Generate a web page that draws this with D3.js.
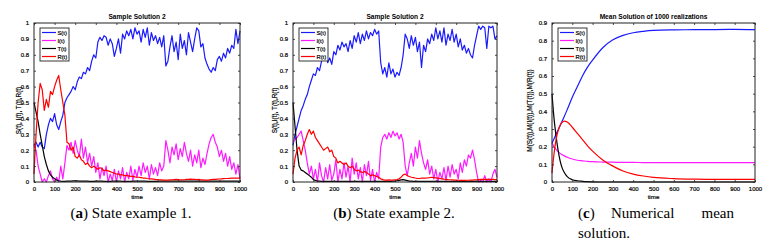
<!DOCTYPE html>
<html>
<head>
<meta charset="utf-8">
<script src="https://cdn.jsdelivr.net/npm/d3@7"></script>
<style>
  body { margin: 0; background: #fff; }
  svg { display: block; }
  .tick text { font-family: "Liberation Sans", Arial, sans-serif; }
</style>
</head>
<body>
<svg id="chart" width="772" height="247"></svg>
<script>
// time grid of the sampled paths (every 10 units)
const time = d3.range(0, 1001, 10);

// panel (a) - sample path 1
const s1 = [.23,.25,.22,.25,.22,.21,.3,.36,.4,.38,.43,.36,.33,.38,.42,.5,.53,.55,.57,.6,.58,.63,.66,.65,.69,.68,.72,.7,.76,.8,.78,.88,.91,.89,.92,.91,.86,.9,.87,.79,.84,.9,.81,.93,.9,.95,.92,.96,.9,.97,.93,.95,.88,.96,.91,.97,.86,.94,.89,.92,.87,.91,.85,.92,.73,.76,.85,.92,.82,.88,.77,.93,.84,.89,.8,.94,.88,.82,.9,.97,.95,.85,.87,.78,.74,.71,.69,.72,.7,.77,.79,.76,.81,.78,.84,.81,.86,.84,.96,.87,.95];
const i1 = [.23,.2,.1,.05,0,.02,0,.04,.07,.02,0,.03,0,.1,.02,.12,.23,.2,.25,.18,.26,.2,.16,.27,.15,.22,.12,.18,.1,.16,.06,.12,.02,.09,.04,.1,0,.05,.01,.08,0,.07,.02,.09,0,.06,.02,.1,.01,.08,.03,.1,.04,.12,.06,.1,.02,.11,.05,.09,.04,.12,.07,.1,.26,.2,.12,.22,.17,.24,.14,.21,.16,.25,.18,.13,.2,.1,.17,.12,.2,.09,.15,.11,.18,.24,.28,.3,.25,.22,.16,.2,.13,.18,.1,.16,.08,.12,.05,.11,.02];
const t1 = [.5,.44,.38,.3,.23,.16,.11,.07,.045,.03,.02,.012,.008,.005,.004,.004,.005,.005,.006,.007,.008,.007,.006,.006,.005,.005,.005,.004,.004,.004,.005,.005,.005,.005,.004,.004,.004,.004,.005,.005,.005,.005,.005,.004,.004,.004,.004,.004,.005,.005,.005,.005,.005,.005,.005,.004,.004,.004,.004,.004,.004,.005,.005,.005,.005,.005,.005,.005,.005,.005,.005,.005,.005,.005,.005,.005,.005,.005,.005,.005,.005,.005,.005,.005,.005,.006,.006,.006,.006,.006,.006,.006,.006,.006,.006,.006,.006,.006,.006,.006,.006];
const r1 = [.05,.3,.5,.62,.58,.45,.52,.47,.57,.55,.6,.64,.67,.58,.5,.42,.25,.24,.2,.22,.16,.15,.17,.14,.13,.11,.12,.1,.09,.1,.09,.08,.09,.085,.07,.075,.07,.065,.06,.055,.05,.05,.045,.045,.04,.04,.038,.035,.035,.032,.03,.03,.028,.025,.025,.022,.02,.02,.018,.015,.015,.014,.013,.012,.012,.012,.013,.014,.015,.016,.015,.014,.013,.014,.016,.017,.018,.017,.016,.015,.016,.014,.013,.012,.012,.013,.015,.016,.017,.018,.019,.02,.021,.022,.022,.023,.024,.024,.025,.025,.025];

// panel (b) - sample path 2
const s2 = [.23,.3,.35,.4,.45,.48,.52,.55,.6,.64,.68,.67,.72,.7,.76,.8,.83,.75,.78,.74,.82,.8,.86,.83,.88,.85,.87,.82,.89,.84,.92,.88,.94,.87,.93,.89,.95,.9,.94,.92,.96,.93,.95,.75,.68,.72,.66,.75,.68,.71,.66,.69,.67,.72,.8,.93,.9,.84,.92,.86,.91,.82,.88,.72,.86,.82,.9,.87,.93,.89,.97,.9,.95,.88,.97,.86,.93,.89,.96,.88,.93,.85,.9,.83,.86,.81,.84,.8,.78,.86,.92,.98,.96,.98,.97,.84,.98,.97,.98,.9,.92];
const i2 = [.25,.27,.28,.3,.32,.26,.2,.12,.05,.1,.02,.08,0,.12,.04,0,.09,.02,.11,.01,.05,.14,0,.08,.02,.12,.03,.1,0,.15,.05,.12,.02,.09,0,.11,.04,.13,.01,.08,0,.06,.02,.22,.28,.3,.27,.31,.28,.32,.29,.31,.27,.3,.25,.1,.04,.12,.18,.1,.22,.15,.26,.18,.12,.08,.14,.05,.1,.02,.08,0,.06,.02,.09,.01,.1,.03,.11,.05,.08,.02,.12,.06,.14,.1,.17,.15,.2,.14,.06,0,.01,0,.04,0,.02,0,.05,.08,.03];
const t2 = [.5,.35,.2,.1,.075,.07,.06,.05,.04,.03,.015,.01,.006,.005,.004,.004,.004,.004,.004,.004,.004,.004,.004,.004,.004,.004,.004,.004,.004,.004,.004,.004,.004,.004,.004,.004,.004,.004,.004,.004,.004,.004,.004,.004,.004,.004,.004,.004,.004,.005,.006,.008,.01,.013,.015,.012,.009,.006,.005,.004,.004,.004,.004,.004,.004,.004,.004,.004,.004,.004,.004,.004,.004,.004,.004,.004,.004,.004,.004,.004,.004,.004,.004,.004,.004,.004,.004,.004,.004,.004,.004,.004,.004,.004,.004,.004,.004,.004,.004,.004,.004];
const r2 = [.05,.15,.2,.22,.17,.23,.26,.3,.33,.3,.32,.28,.26,.24,.22,.2,.21,.22,.19,.2,.16,.15,.12,.13,.12,.11,.12,.1,.09,.1,.08,.07,.075,.065,.06,.065,.06,.05,.04,.045,.04,.035,.03,.02,.015,.012,.012,.013,.012,.012,.014,.015,.02,.03,.045,.05,.04,.035,.03,.028,.025,.023,.022,.024,.025,.024,.025,.027,.03,.028,.026,.024,.022,.02,.018,.017,.015,.014,.013,.012,.012,.011,.01,.01,.01,.011,.011,.012,.012,.013,.014,.015,.016,.017,.017,.016,.016,.017,.016,.015,.015];

// panel (c) - mean of 1000 realizations
const timeMean = [0,10,20,30,40,50,60,75,100,125,150,175,200,250,300,350,400,450,500,600,700,800,900,1000];
const sMean = [.22,.245,.27,.295,.32,.345,.37,.41,.48,.54,.6,.65,.69,.76,.805,.83,.845,.853,.858,.861,.862,.863,.864,.862];
const iMean = [.22,.2,.185,.172,.162,.155,.148,.14,.13,.123,.12,.117,.115,.113,.112,.111,.111,.11,.11,.11,.11,.11,.11,.11];
const tMean = [.5,.36,.26,.18,.12,.08,.055,.03,.013,.007,.004,.002,.001,0,0,0,0,0,0,0,0,0,0,0];
const rMean = [.05,.16,.24,.29,.32,.337,.345,.34,.31,.275,.24,.205,.175,.125,.09,.062,.045,.034,.026,.019,.016,.015,.015,.015];

const seriesNames = ["S(t)", "I(t)", "T(t)", "R(t)"];
const seriesColors = ["#1a1aff", "#ff1aff", "#000000", "#ff0000"];
const xTicks = d3.range(0, 1001, 100);

const svg = d3.select("#chart");
const sans = "Liberation Sans, Arial, sans-serif";

function drawPanel({ left, right, top, bottom, yMax, title, yLabel, yLabelX, xs, series, smooth }) {
  const x = d3.scaleLinear().domain([0, 1000]).range([left, right]);
  const y = d3.scaleLinear().domain([0, yMax]).range([bottom, top]);
  const yTicks = d3.range(0, yMax + 0.001, 0.1).map(v => +v.toFixed(1));
  const g = svg.append("g");

  // lines
  const line = d3.line()
    .x(d => x(d[0]))
    .y(d => y(d[1]))
    .curve(smooth ? d3.curveMonotoneX : d3.curveLinear);
  series.forEach((vals, k) => {
    g.append("path")
      .datum(vals.map((v, i) => [xs[i], v]))
      .attr("fill", "none")
      .attr("stroke", seriesColors[k])
      .attr("stroke-width", 1.2)
      .attr("stroke-linejoin", "round")
      .attr("d", line);
  });

  // axes, matlab style: ticks point inwards on all four sides
  const fmt = v => (v === 0 ? "0" : d3.format("~g")(v));
  g.append("g").attr("transform", `translate(0,${bottom})`)
    .call(d3.axisBottom(x).tickValues(xTicks).tickSizeInner(-2).tickSizeOuter(0).tickPadding(5).tickFormat(fmt));
  g.append("g").attr("transform", `translate(${left},0)`)
    .call(d3.axisLeft(y).tickValues(yTicks).tickSizeInner(-2).tickSizeOuter(0).tickPadding(5).tickFormat(fmt));
  g.append("g").attr("transform", `translate(0,${top})`)
    .call(d3.axisTop(x).tickValues(xTicks).tickSizeInner(-2).tickSizeOuter(0).tickFormat(""));
  g.append("g").attr("transform", `translate(${right},0)`)
    .call(d3.axisRight(y).tickValues(yTicks).tickSizeInner(-2).tickSizeOuter(0).tickFormat(""));
  g.selectAll(".domain").remove();
  g.selectAll(".tick line").attr("stroke", "#222").attr("stroke-width", 0.8);
  g.selectAll(".tick text").attr("font-size", 6).attr("fill", "#000")
    .attr("stroke", "#000").attr("stroke-width", 0.2);

  g.append("rect")
    .attr("x", left).attr("y", top)
    .attr("width", right - left).attr("height", bottom - top)
    .attr("fill", "none").attr("stroke", "#222").attr("stroke-width", 1);

  // title and axis labels
  g.append("text")
    .attr("x", (left + right) / 2).attr("y", top - 4)
    .attr("text-anchor", "middle")
    .attr("font-family", sans)
    .attr("font-weight", "bold").attr("font-size", 6.6)
    .text(title);
  g.append("text")
    .attr("x", (left + right) / 2).attr("y", bottom + 17)
    .attr("text-anchor", "middle")
    .attr("font-family", sans)
    .attr("font-size", 6.2)
    .attr("stroke", "#000").attr("stroke-width", 0.2)
    .text("time");
  g.append("text")
    .attr("transform", `translate(${yLabelX},${(top + bottom) / 2 + 8}) rotate(-90)`)
    .attr("text-anchor", "middle")
    .attr("font-family", sans)
    .attr("font-size", 6.4)
    .attr("stroke", "#000").attr("stroke-width", 0.2)
    .text(yLabel);

  // legend box
  const lx = left + 6, ly = top + 5;
  const leg = g.append("g").attr("transform", `translate(${lx},${ly})`);
  leg.append("rect")
    .attr("width", 29).attr("height", 33)
    .attr("fill", "#fff").attr("stroke", "#222").attr("stroke-width", 0.9);
  seriesNames.forEach((name, k) => {
    const yy = 4.5 + k * 8;
    leg.append("line")
      .attr("x1", 2).attr("x2", 16).attr("y1", yy).attr("y2", yy)
      .attr("stroke", seriesColors[k]).attr("stroke-width", 1.2);
    leg.append("text")
      .attr("x", 17.5).attr("y", yy + 2)
      .attr("font-family", sans)
      .attr("font-size", 5.8)
      .attr("stroke", "#000").attr("stroke-width", 0.2)
      .text(name);
  });
}

drawPanel({
  left: 34, right: 240, top: 23, bottom: 182, yMax: 1,
  title: "Sample Solution 2", yLabel: "S(t), I(t), T(t),R(t)", yLabelX: 21,
  xs: time, series: [s1, i1, t1, r1], smooth: false
});
drawPanel({
  left: 293, right: 497, top: 23, bottom: 182, yMax: 1,
  title: "Sample Solution 2", yLabel: "S(t),I(t), T(t),R(t)", yLabelX: 277,
  xs: time, series: [s2, i2, t2, r2], smooth: false
});
drawPanel({
  left: 552, right: 755, top: 23, bottom: 182, yMax: 0.9,
  title: "Mean Solution of 1000 realizations", yLabel: "M(S(t)),M(I(t)),M(T(t)),M(R(t))", yLabelX: 532,
  xs: timeMean, series: [sMean, iMean, tMean, rMean], smooth: true
});

// sub-figure captions
const capFont = "Liberation Serif, Times New Roman, serif";
function caption(xc, tag, rest) {
  const t = svg.append("text")
    .attr("x", xc).attr("y", 218)
    .attr("text-anchor", "middle")
    .attr("font-family", capFont).attr("font-size", 15);
  t.append("tspan").text("(");
  t.append("tspan").attr("font-weight", "bold").text(tag);
  t.append("tspan").text(") " + rest);
}
caption(131, "a", "State example 1.");
caption(394, "b", "State example 2.");

const c3 = svg.append("g").attr("font-family", capFont).attr("font-size", 15);
const c3a = c3.append("text").attr("x", 578).attr("y", 218);
c3a.append("tspan").text("(");
c3a.append("tspan").attr("font-weight", "bold").text("c");
c3a.append("tspan").text(")");
c3.append("text").attr("x", 611).attr("y", 218).text("Numerical");
c3.append("text").attr("x", 734).attr("y", 218).attr("text-anchor", "end").text("mean");
c3.append("text").attr("x", 578).attr("y", 238).text("solution.");
</script>
</body>
</html>
